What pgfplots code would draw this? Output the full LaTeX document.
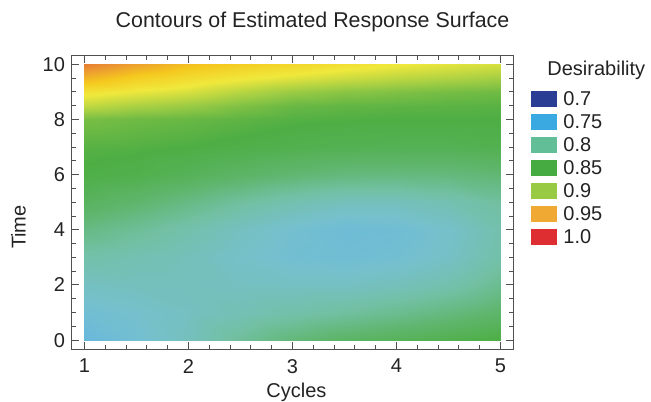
\documentclass[border=0pt]{standalone}
\usepackage{fontspec}
\setmainfont{Liberation Sans}
\usepackage{pgfplots}
\pgfplotsset{compat=1.18}

\definecolor{framegray}{RGB}{80,80,80}
\definecolor{txt}{RGB}{35,35,35}
\definecolor{d70}{RGB}{42,62,148}
\definecolor{d75}{RGB}{58,168,225}
\definecolor{d80}{RGB}{98,190,150}
\definecolor{d85}{RGB}{70,172,66}
\definecolor{d90}{RGB}{152,202,68}
\definecolor{d95}{RGB}{240,170,52}
\definecolor{d100}{RGB}{222,46,50}

\begin{document}
\begin{tikzpicture}[font=\fontsize{10}{12}\selectfont, every node/.style={text=txt}]
\begin{axis}[
    scale only axis,
    width=220.5pt, height=146.5pt,
    xmin=0.88, xmax=5.12,
    ymin=-0.32, ymax=10.3,
    xtick={1,2,3,4,5},
    ytick={0,2,4,6,8,10},
    minor x tick num=4,
    minor y tick num=3,
    tick align=inside,
    major tick length=3.5pt,
    minor tick length=2pt,
    axis line style={framegray, line width=0.5pt},
    every tick/.style={framegray, line width=0.5pt},
    xticklabel shift=1.5pt,
    /pgf/number format/assume math mode=true,
    axis on top,
    colormap={desir}{
        rgb255=(40,60,145); rgb255=(70,121,185); rgb255=(100,182,225);
        rgb255=(118,192,205); rgb255=(115,192,165); rgb255=(95,182,110);
        rgb255=(78,174,68); rgb255=(160,205,68); rgb255=(240,232,60);
        rgb255=(245,200,30); rgb255=(235,150,50); rgb255=(228,98,50);
        rgb255=(220,45,50)},
    point meta min=0.7, point meta max=1.0,
    xlabel={Cycles},
    ylabel={Time},
    xlabel style={at={(axis description cs:0.509,-0.167)}, anchor=base},
    ylabel style={at={(axis description cs:-0.1213,0.416)}, anchor=center},
    title={Contours of Estimated Response Surface},
    every axis title/.style={at={(axis description cs:0.5454,1.0956)}, anchor=base, font=\fontsize{10.7}{12}\selectfont},
]
\addplot[surf, shader=interp, mesh/rows=13, mesh/cols=9, point meta=explicit]
table[x=x, y=y, meta=z] {
x y z
1 0 0.755
1.5 0 0.770
2 0 0.785
2.5 0 0.805
3 0 0.820
3.5 0 0.830
4 0 0.837
4.5 0 0.843
5 0 0.850
1 1 0.768
1.5 1 0.775
2 1 0.783
2.5 1 0.790
3 1 0.797
3.5 1 0.803
4 1 0.810
4.5 1 0.818
5 1 0.828
1 2 0.782
1.5 2 0.785
2 2 0.785
2.5 2 0.783
3 2 0.782
3.5 2 0.782
4 2 0.787
4.5 2 0.795
5 2 0.810
1 3 0.797
1.5 3 0.792
2 3 0.787
2.5 3 0.778
3 3 0.770
3.5 3 0.767
4 3 0.770
4.5 3 0.780
5 3 0.798
1 4 0.815
1.5 4 0.806
2 4 0.795
2.5 4 0.783
3 4 0.772
3.5 4 0.764
4 4 0.766
4.5 4 0.777
5 4 0.795
1 5 0.835
1.5 5 0.826
2 5 0.815
2.5 5 0.803
3 5 0.793
3.5 5 0.786
4 5 0.786
4.5 5 0.792
5 5 0.803
1 6 0.848
1.5 6 0.845
2 6 0.838
2.5 6 0.830
3 6 0.823
3.5 6 0.818
4 6 0.817
4.5 6 0.818
5 6 0.822
1 7 0.853
1.5 7 0.852
2 7 0.850
2.5 7 0.847
3 7 0.844
3.5 7 0.841
4 7 0.840
4.5 7 0.840
5 7 0.843
1 8 0.863
1.5 8 0.860
2 8 0.858
2.5 8 0.855
3 8 0.852
3.5 8 0.851
4 8 0.850
4.5 8 0.850
5 8 0.850
1 8.5 0.885
1.5 8.5 0.878
2 8.5 0.873
2.5 8.5 0.865
3 8.5 0.858
3.5 8.5 0.856
4 8.5 0.855
4.5 8.5 0.854
5 8.5 0.853
1 9 0.905
1.5 9 0.898
2 9 0.892
2.5 9 0.882
3 9 0.873
3.5 9 0.868
4 9 0.865
4.5 9 0.862
5 9 0.860
1 9.5 0.935
1.5 9.5 0.920
2 9.5 0.910
2.5 9.5 0.902
3 9.5 0.895
3.5 9.5 0.889
4 9.5 0.884
4.5 9.5 0.880
5 9.5 0.876
1 10 0.962
1.5 10 0.945
2 10 0.930
2.5 10 0.921
3 10 0.914
3.5 10 0.907
4 10 0.901
4.5 10 0.896
5 10 0.892
};
\coordinate (sw) at (rel axis cs:0,0);
\end{axis}

% legend
\node[anchor=base west, inner sep=0pt] at ([shift={(237.5pt,136.5pt)}]sw) {Desirability};
\foreach \c/\lab [count=\i from 0] in {d70/0.7, d75/0.75, d80/0.8, d85/0.85, d90/0.9, d95/0.95, d100/1.0} {
    \fill[\c] ([shift={(229.5pt,129pt-11.5pt*\i)}]sw) rectangle ([shift={(242.5pt,121pt-11.5pt*\i)}]sw);
    \node[anchor=base west, inner sep=0pt] at ([shift={(245.5pt,121.75pt-11.5pt*\i)}]sw) {\lab};
}

\pgfresetboundingbox
\path[use as bounding box] ([shift={(-36pt,-26pt)}]sw) rectangle ([shift={(289.5pt,174.5pt)}]sw);
\end{tikzpicture}
\end{document}
